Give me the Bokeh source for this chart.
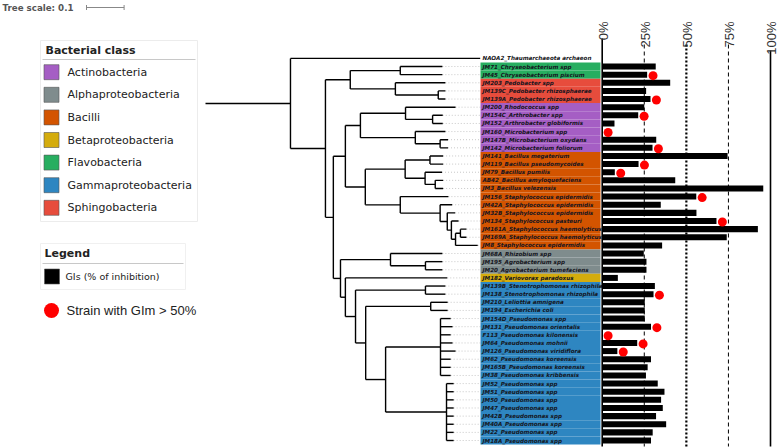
import math
from bokeh.plotting import figure
from bokeh.models import Range1d
from bokeh.core.properties import value
from bokeh.embed import file_html
from bokeh.resources import INLINE

# ---------------- data ----------------
strain_ids = ["NAOA2", "JM71", "JM45", "JM203", "JM139C", "JM139A", "JM200", "JM154C", "JM152",
              "JM160", "JM147B", "JM142", "JM141", "JM119", "JM79", "AB42", "JM3", "JM156", "JM42A",
              "JM32B", "JM134", "JM161A", "JM169A", "JM8", "JM68A", "JM195", "JM20", "JM182",
              "JM139B", "JM138", "JM210", "JM194", "JM154D", "JM131", "F113", "JM64", "JM126",
              "JM62", "JM165B", "JM38", "JM52", "JM51", "JM50", "JM47", "JM42B", "JM40A", "JM22", "JM18A"]
species = ["Thaumarchaeota archaeon", "Chryseobacterium spp", "Chryseobacterium piscium", "Pedobacter spp",
           "Pedobacter rhizosphaerae", "Pedobacter rhizosphaerae", "Rhodococcus spp", "Arthrobacter spp",
           "Arthrobacter globiformis", "Microbacterium spp", "Microbacterium oxydans", "Microbacterium foliorum",
           "Bacillus megaterium", "Bacillus pseudomycoides", "Bacillus pumilis", "Bacillus amyloquefaciens",
           "Bacillus velezensis", "Staphylococcus epidermidis", "Staphylococcus epidermidis",
           "Staphylococcus epidermidis", "Staphylococcus pasteuri", "Staphylococcus haemolyticus",
           "Staphylococcus haemolyticus", "Staphylococcus epidermidis", "Rhizobium spp", "Agrobacterium spp",
           "Agrobacterium tumefaciens", "Variovorax paradoxus", "Stenotrophomonas rhizophila",
           "Stenotrophomonas rhizophila", "Leliottia amnigena", "Escherichia coli", "Pseudomonas spp",
           "Pseudomonas orientalis", "Pseudomonas kilonensis", "Pseudomonas mohnii", "Pseudomonas viridiflora",
           "Pseudomonas koreensis", "Pseudomonas koreensis", "Pseudomonas kribbensis", "Pseudomonas spp",
           "Pseudomonas spp", "Pseudomonas spp", "Pseudomonas spp", "Pseudomonas spp", "Pseudomonas spp",
           "Pseudomonas spp", "Pseudomonas spp"]
strain_class = ["", "Flavobacteria", "Flavobacteria", "Sphingobacteria", "Sphingobacteria", "Sphingobacteria",
                "Actinobacteria", "Actinobacteria", "Actinobacteria", "Actinobacteria", "Actinobacteria",
                "Actinobacteria"] + ["Bacilli"] * 12 + ["Alphaproteobacteria"] * 3 + ["Betaproteobacteria"] + \
               ["Gammaproteobacteria"] * 20
# GIs (% of inhibition)
gis = [0, 31.8, 26.7, 40.4, 26.1, 28.7, 25.0, 21.4, 7.3, 0, 32.1, 29.9,
       74.5, 21.6, 7.5, 43.4, 95.7, 55.9, 34.8, 56.0, 67.9, 92.5, 74.0, 35.6,
       24.7, 26.3, 26.3, 9.3, 31.3, 30.5, 25.3, 25.3, 25.3, 29.0, 0, 20.8,
       9.0, 29.0, 27.0, 26.0, 33.0, 37.0, 35.0, 36.0, 32.0, 38.0, 30.0, 29.0]
# strains with GIm > 50%
gim_high = ["JM45", "JM139A", "JM154C", "JM160", "JM142", "JM119", "JM79", "JM156", "JM134",
            "JM138", "JM131", "F113", "JM64", "JM126"]

classes = ["Actinobacteria", "Alphaproteobacteria", "Bacilli", "Betaproteobacteria",
           "Flavobacteria", "Gammaproteobacteria", "Sphingobacteria"]
class_colors = ["#a55ec4", "#7f8c8d", "#d35400", "#d4ac0d", "#27ae60", "#2e86c1", "#e74c3c"]

pct_ticks = [0, 25, 50, 75, 100]
pct_labels = ["0%", "25%", "50%", "75%", "100%"]

# phylogenetic tree: (leaf id | [children], branch length in substitutions/site)
TREE = ([
    ("NAOA2", 0.505),
    ([
        ([  # Bacteroidetes
            ([("JM71", 0.112), ("JM45", 0.112)], 0.133),
            ([("JM203", 0.133), ([("JM139C", 0.019), ("JM139A", 0.019)], 0.114)], 0.120),
        ], 0.066),
        ([
            ([  # Gram positives
                ([  # Actinobacteria
                    ([("JM200", 0.133), ([("JM154C", 0.027), ("JM152", 0.027)], 0.072)], 0.120),
                    ([("JM160", 0.080), ([("JM147B", 0.021), ("JM142", 0.021)], 0.066)], 0.146),
                ], 0.040),
                ([  # Bacilli
                    ([
                        ([("JM141", 0.035), ("JM119", 0.035)], 0.066),
                        ([("JM79", 0.045), ([("AB42", 0.021), ("JM3", 0.021)], 0.027)], 0.053),
                    ], 0.106),
                    ([
                        ("JM156", 0.128),
                        ([("JM42A", 0.032),
                          ([("JM32B", 0.021),
                            ([("JM134", 0.019),
                              ([([("JM161A", 0.016), ("JM169A", 0.016)], 0.013), ("JM8", 0.059)], 0.011)],
                             0.011)], 0.019)], 0.106),
                    ], 0.093),
                ], 0.053),
            ], 0.032),
            ([  # Proteobacteria
                ([("JM68A", 0.138), ([("JM195", 0.045), ("JM20", 0.045)], 0.093)], 0.133),
                ([
                    ("JM182", 0.271),
                    ([
                        ([("JM139B", 0.053), ("JM138", 0.053)], 0.186),
                        ([
                            ([("JM210", 0.045), ("JM194", 0.045)], 0.173),
                            ([
                                ([("JM154D", 0.027), ("JM131", 0.032), ("F113", 0.027), ("JM64", 0.032),
                                  ("JM126", 0.040), ("JM62", 0.027), ("JM165B", 0.027), ("JM38", 0.027)], 0.146),
                                ([("JM52", 0.019), ("JM51", 0.019), ("JM50", 0.019), ("JM47", 0.019),
                                  ("JM42B", 0.019), ("JM40A", 0.019), ("JM22", 0.019), ("JM18A", 0.019)], 0.162),
                            ], 0.053),
                        ], 0.027),
                    ], 0.027),
                ], 0.013),
            ], 0.019),
        ], 0.021),
    ], 0.093),
], 0.226)
TREE_SCALE = 0.1

# ---------------- layout constants (reference pixels) ----------------
W, H = 780, 447
ROW0_Y, ROW_H = 57.9, 8.13               # y of first row, row pitch
PCT0_X, PCT_W = 601.7, 1.683             # x of 0 %, px per %
TREE0_X, TREE_W = 205.0, 376.0           # x of tree root, px per unit
BAND_L, BAND_R = 480, 600

p = figure(width=W, height=H, x_range=Range1d(0, W), y_range=Range1d(H, 0),
           min_border=0, toolbar_location=None, output_backend="svg")
p.axis.visible = False
p.grid.visible = False
p.outline_line_color = None
p.background_fill_color = "white"

p.extra_y_ranges = {"rows": Range1d((H - ROW0_Y) / ROW_H, (0 - ROW0_Y) / ROW_H)}
p.extra_x_ranges = {"pct": Range1d((0 - PCT0_X) / PCT_W, (W - PCT0_X) / PCT_W),
                    "tree": Range1d((0 - TREE0_X) / TREE_W, (W - TREE0_X) / TREE_W)}

rows = list(range(len(strain_ids)))
row_of = {s: i for i, s in enumerate(strain_ids)}
cmap = dict(zip(classes, class_colors))

# ---------------- tree ----------------
hx0, hx1, hy, vx, vy0, vy1, tips_x, tips_y = [], [], [], [], [], [], [], []


def lay(node, x0):
    sub, length = node
    x = x0 + length
    if isinstance(sub, str):
        y = row_of[sub]
        tips_x.append(x)
        tips_y.append(y)
    else:
        ys = [lay(c, x) for c in sub]
        y = (ys[0] + ys[-1]) / 2
        vx.append(x); vy0.append(ys[0]); vy1.append(ys[-1])
    hx0.append(x0); hx1.append(x); hy.append(y)
    return y


lay(TREE, 0.0)
band_t = (BAND_L - TREE0_X) / TREE_W
p.segment(x0=tips_x, x1=[band_t] * len(tips_x), y0=tips_y, y1=tips_y, line_color="#c8c8c8",
          line_width=1, line_dash="1 2", x_range_name="tree", y_range_name="rows")
p.segment(x0=hx0, x1=hx1, y0=hy, y1=hy, line_color="black", line_width=1.4,
          x_range_name="tree", y_range_name="rows")
p.segment(x0=vx, x1=vx, y0=vy0, y1=vy1, line_color="black", line_width=1.4,
          x_range_name="tree", y_range_name="rows")

# ---------------- label band ----------------
band_colors = [cmap.get(c, "white") for c in strain_class]
p.hbar(y=rows, left=BAND_L, right=BAND_R, height=1.0, fill_color=band_colors, line_color=None,
       y_range_name="rows")
p.text(x=BAND_L + 2, y=rows, text=[f"{a}_{b}" for a, b in zip(strain_ids, species)],
       text_font=value("DejaVu Sans"), text_font_size="5.6px", text_font_style="bold italic",
       text_color="#151520", text_baseline="middle", y_range_name="rows")

# ---------------- percentage guides ----------------
styles = [("solid", 1.6), ("4 3", 1.0), ("2 2", 2.2), ("4 3", 1.0), ("solid", 1.6)]
for t, lab, (dash, w) in zip(pct_ticks, pct_labels, styles):
    ystart = (26 + 6 * len(lab) - ROW0_Y) / ROW_H
    p.segment(x0=[t], x1=[t], y0=[ystart], y1=[(446 - ROW0_Y) / ROW_H], line_color="black",
              line_width=w, line_dash=dash, x_range_name="pct", y_range_name="rows")
p.text(x=[PCT0_X + PCT_W * t + 1 for t in pct_ticks], y=[21] * len(pct_ticks), text=pct_labels,
       angle=math.pi / 2, text_align="right", text_baseline="alphabetic",
       text_font=value("Liberation Sans"), text_font_size="13px", text_color="#333333")

# ---------------- bars and dots ----------------
p.hbar(y=rows, left=0, right=gis, height=0.74, fill_color="black", line_color=None,
       x_range_name="pct", y_range_name="rows")
dot_r = [row_of[s] for s in gim_high]
p.scatter(x=[gis[r] + 3.5 for r in dot_r], y=[r + 0.12 for r in dot_r], size=9, fill_color="#ff0000",
          line_color=None, x_range_name="pct", y_range_name="rows")

# ---------------- tree scale ----------------
p.text(x=[2], y=[7], text=["Tree scale: 0.1"], text_font=value("DejaVu Sans"), text_font_size="8.7px",
       text_font_style="bold", text_color="#555555", text_baseline="middle")
sb_x = 86
p.segment(x0=[sb_x], x1=[sb_x + TREE_SCALE * TREE_W], y0=[7], y1=[7], line_color="#888888", line_width=1)
p.segment(x0=[sb_x, sb_x + TREE_SCALE * TREE_W], x1=[sb_x, sb_x + TREE_SCALE * TREE_W], y0=[4.5, 4.5],
          y1=[9.5, 9.5], line_color="#888888", line_width=1)

# ---------------- class legend ----------------
p.quad(left=[40], right=[197], top=[40], bottom=[221], fill_color=None, line_color="#ececec", line_width=1)
p.text(x=[45], y=[50], text=["Bacterial class"], text_font=value("DejaVu Sans"), text_font_size="11px",
       text_font_style="bold", text_color="#222222", text_baseline="middle")
p.segment(x0=[42], x1=[195], y0=[59], y1=[59], line_color="#c8c8c8", line_width=1.2)
ly = [71.7 + 22.6 * i for i in range(len(classes))]
p.rect(x=[51] * len(classes), y=ly, width=15, height=15, fill_color=class_colors, line_color="#555555",
       line_width=0.6)
p.text(x=[67] * len(classes), y=ly, text=classes, text_font=value("DejaVu Sans"), text_font_size="11px",
       text_color="#222222", text_baseline="middle")

# ---------------- value legend ----------------
p.quad(left=[40], right=[185], top=[243], bottom=[289], fill_color=None, line_color="#f0f0f0", line_width=1)
p.text(x=[44], y=[253], text=["Legend"], text_font=value("DejaVu Sans"), text_font_size="11px",
       text_font_style="bold", text_color="#222222", text_baseline="middle")
p.segment(x0=[42], x1=[183], y0=[263], y1=[263], line_color="#c8c8c8", line_width=1.2)
p.rect(x=[51.5], y=[276], width=15, height=15, fill_color="black", line_color="#555555", line_width=0.6)
p.text(x=[65], y=[276], text=["GIs (% of inhibition)"], text_font=value("DejaVu Sans"),
       text_font_size="9.5px", text_color="#222222", text_baseline="middle")
p.scatter(x=[51], y=[310], size=15, fill_color="#ff0000", line_color=None)
p.text(x=[66], y=[310], text=["Strain with GIm > 50%"], text_font=value("Liberation Sans"),
       text_font_size="13px", text_color="#222222", text_baseline="middle")

open("out.html", "w").write(file_html(p, INLINE))
